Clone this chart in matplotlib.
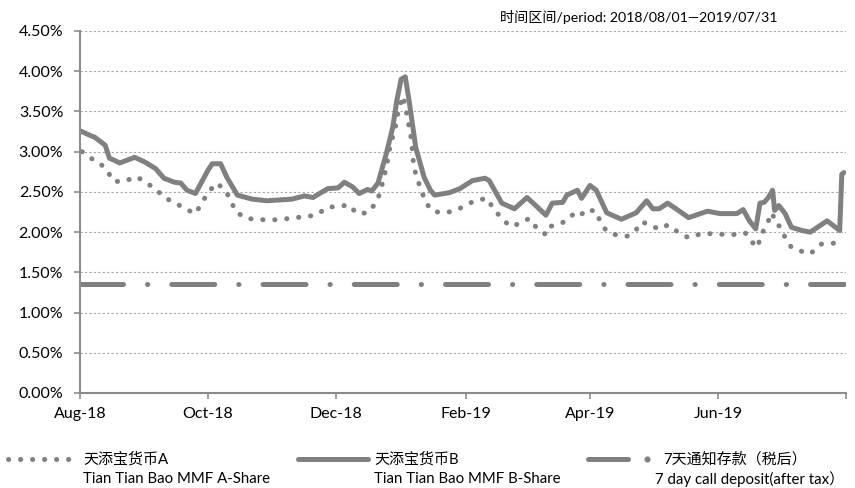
import matplotlib
matplotlib.use("Agg")
import matplotlib.pyplot as plt
from matplotlib.lines import Line2D
from matplotlib.ticker import FuncFormatter, MultipleLocator
import pandas as pd

plt.rcParams['font.family'] = ['Lato', 'Noto Sans CJK SC', 'DejaVu Sans']

# 天添宝货币B (solid)
b_dates = ['2018-08-01', '2018-08-06', '2018-08-08', '2018-08-10', '2018-08-13', '2018-08-15',
           '2018-08-20', '2018-08-24', '2018-08-27', '2018-09-01', '2018-09-06', '2018-09-10',
           '2018-09-15', '2018-09-18', '2018-09-21', '2018-09-25', '2018-10-01', '2018-10-03',
           '2018-10-07', '2018-10-10', '2018-10-15', '2018-10-22', '2018-10-29', '2018-11-04',
           '2018-11-10', '2018-11-16', '2018-11-20', '2018-11-27', '2018-12-02', '2018-12-05',
           '2018-12-09', '2018-12-12', '2018-12-16', '2018-12-18', '2018-12-21', '2018-12-25',
           '2018-12-28', '2018-12-30', '2019-01-01', '2019-01-03', '2019-01-05', '2019-01-08',
           '2019-01-12', '2019-01-15', '2019-01-17', '2019-01-24', '2019-01-29', '2019-02-04',
           '2019-02-10', '2019-02-12', '2019-02-18', '2019-02-24', '2019-03-02', '2019-03-07',
           '2019-03-11', '2019-03-14', '2019-03-19', '2019-03-21', '2019-03-26', '2019-03-28',
           '2019-04-01', '2019-04-04', '2019-04-09', '2019-04-16', '2019-04-23', '2019-04-28',
           '2019-05-01', '2019-05-04', '2019-05-08', '2019-05-12', '2019-05-18', '2019-05-27',
           '2019-06-02', '2019-06-10', '2019-06-13', '2019-06-16', '2019-06-19', '2019-06-21',
           '2019-06-23', '2019-06-25', '2019-06-27', '2019-06-28', '2019-06-30', '2019-07-03',
           '2019-07-06', '2019-07-11', '2019-07-15', '2019-07-23', '2019-07-26', '2019-07-29',
           '2019-07-30', '2019-07-31']
b_vals = [3.26, 3.20, 3.18, 3.14, 3.08, 2.92,
          2.86, 2.90, 2.93, 2.87, 2.79, 2.67,
          2.62, 2.61, 2.52, 2.48, 2.77, 2.85,
          2.85, 2.68, 2.46, 2.41, 2.39, 2.40,
          2.41, 2.45, 2.43, 2.54, 2.55, 2.62,
          2.56, 2.48, 2.53, 2.51, 2.61, 2.98,
          3.30, 3.64, 3.90, 3.93, 3.60, 3.05,
          2.68, 2.52, 2.46, 2.49, 2.54, 2.64,
          2.67, 2.64, 2.36, 2.29, 2.43, 2.31,
          2.21, 2.36, 2.37, 2.46, 2.52, 2.42,
          2.58, 2.52, 2.24, 2.16, 2.24, 2.39,
          2.29, 2.29, 2.36, 2.29, 2.18, 2.26,
          2.23, 2.23, 2.28, 2.14, 2.04, 2.36,
          2.37, 2.43, 2.52, 2.27, 2.33, 2.23,
          2.06, 2.02, 2.00, 2.14, 2.08, 2.02,
          2.72, 2.74]

# 天添宝货币A (dotted)
a_dates = ['2018-08-02', '2018-08-06', '2018-08-10', '2018-08-14', '2018-08-17', '2018-08-22',
           '2018-08-28', '2018-09-01', '2018-09-06', '2018-09-10', '2018-09-15', '2018-09-20',
           '2018-09-25', '2018-09-28', '2018-10-01', '2018-10-05', '2018-10-09', '2018-10-12',
           '2018-10-14', '2018-10-19', '2018-10-24', '2018-10-30', '2018-11-06', '2018-11-11',
           '2018-11-17', '2018-11-22', '2018-11-27', '2018-12-03', '2018-12-07', '2018-12-11',
           '2018-12-16', '2018-12-20', '2018-12-22', '2018-12-25', '2018-12-27', '2018-12-29',
           '2018-12-31', '2019-01-02', '2019-01-04', '2019-01-06', '2019-01-07', '2019-01-09',
           '2019-01-11', '2019-01-13', '2019-01-16', '2019-01-21', '2019-01-26', '2019-01-31',
           '2019-02-05', '2019-02-11', '2019-02-14', '2019-02-18', '2019-02-22', '2019-02-27',
           '2019-03-03', '2019-03-07', '2019-03-11', '2019-03-13', '2019-03-18', '2019-03-20',
           '2019-03-24', '2019-03-27', '2019-03-30', '2019-04-04', '2019-04-06', '2019-04-09',
           '2019-04-14', '2019-04-19', '2019-04-23', '2019-04-26', '2019-04-30', '2019-05-05',
           '2019-05-08', '2019-05-13', '2019-05-18', '2019-05-24', '2019-05-30', '2019-06-05',
           '2019-06-10', '2019-06-14', '2019-06-17', '2019-06-20', '2019-06-21', '2019-06-25',
           '2019-06-27', '2019-06-28', '2019-07-01', '2019-07-03', '2019-07-06', '2019-07-11',
           '2019-07-15', '2019-07-20', '2019-07-25', '2019-07-30']
a_vals = [3.00, 2.92, 2.87, 2.76, 2.63, 2.63,
          2.69, 2.62, 2.54, 2.43, 2.37, 2.29,
          2.23, 2.36, 2.49, 2.61, 2.53, 2.39,
          2.26, 2.17, 2.16, 2.15, 2.16, 2.18,
          2.19, 2.22, 2.31, 2.32, 2.34, 2.23,
          2.24, 2.36, 2.49, 2.81, 3.10, 3.27,
          3.55, 3.69, 3.43, 3.14, 2.81, 2.64,
          2.49, 2.36, 2.26, 2.24, 2.26, 2.32,
          2.39, 2.42, 2.29, 2.17, 2.07, 2.11,
          2.17, 2.04, 1.97, 2.07, 2.11, 2.13,
          2.22, 2.19, 2.28, 2.26, 2.12, 2.01,
          1.96, 1.95, 2.03, 2.13, 2.07, 2.04,
          2.09, 2.00, 1.93, 1.98, 1.98, 1.97,
          1.97, 1.99, 1.88, 1.81, 1.93, 2.14,
          2.24, 2.12, 2.06, 1.93, 1.81, 1.76,
          1.73, 1.85, 1.86, 1.87]

# 7天通知存款 (税后)
deposit_dates = ['2018-08-01', '2019-07-31']
deposit_vals = [1.35, 1.35]

tick_dates = ['2018-08-01', '2018-10-01', '2018-12-01', '2019-02-01', '2019-04-01', '2019-06-01', '2019-08-01']
tick_labels = ['Aug-18', 'Oct-18', 'Dec-18', 'Feb-19', 'Apr-19', 'Jun-19', '']

legend_cn = ['天添宝货币A', '天添宝货币B', '7天通知存款（税后）']
legend_en = ['Tian Tian Bao MMF A-Share', 'Tian Tian Bao MMF B-Share', '7 day call deposit(after tax）']

gray = '#808080'
W, H = 855, 488
fig = plt.figure(figsize=(W / 100, H / 100), dpi=100)
ax = fig.add_axes([80 / W, 1 - 393 / H, (846 - 80) / W, (393 - 31) / H])

dot_style = dict(color=gray, lw=3.6, linestyle=(0, (0.05, 2.35)), dash_capstyle='round')
solid_style = dict(color=gray, lw=3.6, solid_capstyle='round', solid_joinstyle='round')
dash_style = dict(color=gray, lw=3.6, linestyle=(0, (8.6, 4.8, 0.05, 4.8)), dash_capstyle='round')

ax.plot(pd.to_datetime(deposit_dates), deposit_vals, **dash_style)
ax.plot(pd.to_datetime(a_dates), a_vals, **dot_style)
ax.plot(pd.to_datetime(b_dates), b_vals, **solid_style)

ax.set_xlim(pd.Timestamp('2018-08-01'), pd.Timestamp('2019-08-01'))
ax.set_ylim(0, 4.5)
ax.yaxis.set_major_locator(MultipleLocator(0.5))
ax.yaxis.set_major_formatter(FuncFormatter(lambda v, p: '%.2f%%' % v))
ax.set_xticks(pd.to_datetime(tick_dates))
ax.set_xticklabels(tick_labels)

ax.yaxis.grid(True, linestyle=(0, (2, 2)), color='#a6a6a6', lw=0.8)
ax.set_axisbelow(True)
for s in ['top', 'right']:
    ax.spines[s].set_visible(False)
for s in ['left', 'bottom']:
    ax.spines[s].set_color('#8c8c8c')
    ax.spines[s].set_linewidth(1.5)
ax.tick_params(axis='both', colors='#8c8c8c', length=4, width=1.2, labelcolor='black', labelsize=11.5)
ax.tick_params(axis='x', pad=6)
ax.tick_params(axis='y', pad=8)

fig.text(500 / W, 1 - 17 / H, '时间区间/period: 2018/08/01—2019/07/31', fontsize=10.2,
         ha='left', va='center')

# legend below the plot
row1 = 1 - 459 / H
row2 = 1 - 479 / H
fig.add_artist(Line2D([8 / W, 80 / W], [row1, row1], transform=fig.transFigure, **dot_style))
fig.add_artist(Line2D([298 / W, 368 / W], [row1, row1], transform=fig.transFigure, **solid_style))
fig.add_artist(Line2D([588 / W, 628 / W], [row1, row1], transform=fig.transFigure, **solid_style))
fig.add_artist(Line2D([647 / W], [row1], transform=fig.transFigure, marker='o', ms=3.4,
                      color=gray, linestyle='none'))
for x1, x2, cn, en in zip([83, 374, 663], [83, 374, 655], legend_cn, legend_en):
    fig.text(x1 / W, row1, cn, fontsize=10.8, ha='left', va='center')
    fig.text(x2 / W, row2, en, fontsize=10.8, ha='left', va='center')

fig.savefig('out.png', dpi=100)
